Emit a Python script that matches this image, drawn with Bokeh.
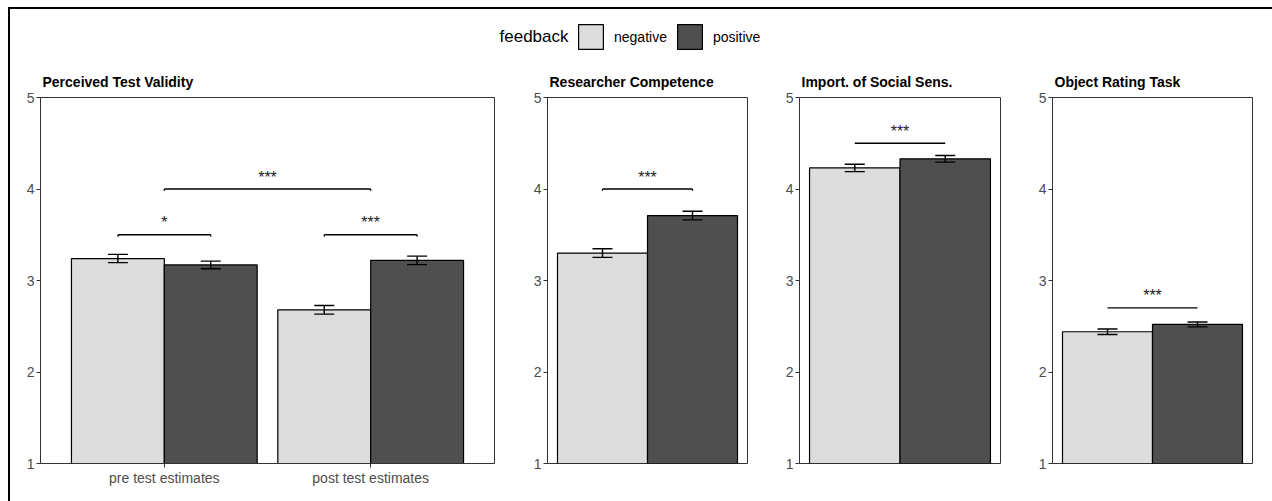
from bokeh.plotting import figure
from bokeh.models import (Range1d, FixedTicker, ColumnDataSource, Whisker, TeeHead,
                          Legend, LegendItem, Label)
from bokeh.layouts import row, column
from bokeh.embed import file_html
from bokeh.resources import INLINE
from bokeh.core.properties import value

# ---------------- data ----------------
groups = ["pre test estimates", "post test estimates"]
feedback = ["negative", "positive"]

validity_neg = [3.24, 2.68]
validity_pos = [3.17, 3.22]
validity_neg_se = [0.045, 0.047]
validity_pos_se = [0.042, 0.046]

competence_neg = [3.30]
competence_pos = [3.71]
competence_neg_se = [0.047]
competence_pos_se = [0.047]

social_neg = [4.23]
social_pos = [4.33]
social_neg_se = [0.040]
social_pos_se = [0.036]

object_neg = [2.44]
object_pos = [2.52]
object_neg_se = [0.030]
object_pos_se = [0.027]

# significance brackets: (x start, x end, y, label, tip length)
validity_sig_x0 = [0.775, 1.0, 1.775]
validity_sig_x1 = [1.225, 2.0, 2.225]
validity_sig_y = [3.5, 4.0, 3.5]
validity_sig_lab = ["*", "***", "***"]
validity_sig_tip = [0.02, 0.02, 0.02]

competence_sig_x0 = [0.775]
competence_sig_x1 = [1.225]
competence_sig_y = [4.0]
competence_sig_lab = ["***"]
competence_sig_tip = [0.02]

social_sig_x0 = [0.775]
social_sig_x1 = [1.225]
social_sig_y = [4.5]
social_sig_lab = ["***"]
social_sig_tip = [0.0]

object_sig_x0 = [0.775]
object_sig_x1 = [1.225]
object_sig_y = [2.7]
object_sig_lab = ["***"]
object_sig_tip = [0.0]

y_ticks = [1, 2, 3, 4, 5]

# ---------------- style ----------------
FONT = "Liberation Sans"
NEG_COLOR = "#dcdcdc"
POS_COLOR = "#4f4f4f"
FRAME_COLOR = "#333333"
BAR_W = 0.45
DODGE = 0.225


def make_panel(title, n_groups, neg, pos, neg_se, pos_se,
               sx0, sx1, sy, slab, stip,
               frame_w, left, right, xr, show_x):
    p = figure(frame_width=frame_w, frame_height=366,
               x_range=Range1d(*xr), y_range=Range1d(1, 5),
               output_backend="svg", toolbar_location=None,
               min_border_left=left, min_border_right=right,
               min_border_top=35, min_border_bottom=38,
               title=title)
    p.title.text_font = FONT
    p.title.text_font_size = "14px"
    p.title.text_font_style = "bold"
    p.title.text_color = "black"
    p.title.align = "left"
    p.title.offset = 2
    p.title.standoff = 16

    xs = [i + 1 for i in range(n_groups)]
    x_neg = [x - DODGE for x in xs]
    x_pos = [x + DODGE for x in xs]
    p.vbar(x=x_neg, top=neg, bottom=1, width=BAR_W,
           fill_color=NEG_COLOR, line_color="black", line_width=1.2)
    p.vbar(x=x_pos, top=pos, bottom=1, width=BAR_W,
           fill_color=POS_COLOR, line_color="black", line_width=1.2)

    err = ColumnDataSource(dict(
        x=x_neg + x_pos,
        upper=[v + e for v, e in zip(neg, neg_se)] + [v + e for v, e in zip(pos, pos_se)],
        lower=[v - e for v, e in zip(neg, neg_se)] + [v - e for v, e in zip(pos, pos_se)],
    ))
    w = Whisker(source=err, base="x", upper="upper", lower="lower",
                line_color="black", line_width=1.4, level="overlay",
                upper_head=TeeHead(size=20, line_color="black", line_width=1.4),
                lower_head=TeeHead(size=20, line_color="black", line_width=1.4))
    p.add_layout(w)

    # brackets
    p.segment(x0=sx0, y0=sy, x1=sx1, y1=sy, line_color="black", line_width=1.3)
    tips_x = sx0 + sx1
    tips_y0 = sy + sy
    tips_y1 = [y - t for y, t in zip(sy, stip)] * 2
    p.segment(x0=tips_x, y0=tips_y0, x1=tips_x, y1=tips_y1,
              line_color="black", line_width=1.3)
    cx = [(a + b) / 2 for a, b in zip(sx0, sx1)]
    p.text(x=cx, y=sy, text=slab, text_align="center", text_baseline="alphabetic",
           y_offset=-12, text_font=value(FONT), text_font_size="16px",
           text_color="#222222")

    p.xgrid.visible = False
    p.ygrid.visible = False
    p.outline_line_color = FRAME_COLOR
    p.outline_line_width = 1
    p.outline_line_alpha = 1

    p.yaxis.ticker = FixedTicker(ticks=y_ticks)
    p.yaxis.axis_line_color = FRAME_COLOR
    p.yaxis.major_tick_line_color = FRAME_COLOR
    p.yaxis.major_tick_out = 4
    p.yaxis.major_tick_in = 0
    p.yaxis.minor_tick_line_color = None
    p.yaxis.major_label_text_font = FONT
    p.yaxis.major_label_text_font_size = "14px"
    p.yaxis.major_label_text_color = "#4d4d4d"
    p.yaxis.major_label_standoff = 2

    if show_x:
        p.xaxis.ticker = FixedTicker(ticks=xs)
        p.xaxis.major_label_overrides = {x: g for x, g in zip(xs, groups)}
        p.xaxis.axis_line_color = FRAME_COLOR
        p.xaxis.major_tick_line_color = FRAME_COLOR
        p.xaxis.major_tick_out = 4
        p.xaxis.major_tick_in = 0
        p.xaxis.minor_tick_line_color = None
        p.xaxis.major_label_text_font = FONT
        p.xaxis.major_label_text_font_size = "14px"
        p.xaxis.major_label_text_color = "#4d4d4d"
        p.xaxis.major_label_standoff = 2
    else:
        p.xaxis.visible = False
    return p


p1 = make_panel("Perceived Test Validity", 2, validity_neg, validity_pos,
                validity_neg_se, validity_pos_se,
                validity_sig_x0, validity_sig_x1, validity_sig_y, validity_sig_lab, validity_sig_tip,
                454, 30, 21, (0.4, 2.6), True)
p2 = make_panel("Researcher Competence", 1, competence_neg, competence_pos,
                competence_neg_se, competence_pos_se,
                competence_sig_x0, competence_sig_x1, competence_sig_y, competence_sig_lab, competence_sig_tip,
                200, 32, 20, (0.5, 1.5), False)
p3 = make_panel("Import. of Social Sens.", 1, social_neg, social_pos,
                social_neg_se, social_pos_se,
                social_sig_x0, social_sig_x1, social_sig_y, social_sig_lab, social_sig_tip,
                201, 32, 20, (0.5, 1.5), False)
p4 = make_panel("Object Rating Task", 1, object_neg, object_pos,
                object_neg_se, object_pos_se,
                object_sig_x0, object_sig_x1, object_sig_y, object_sig_lab, object_sig_tip,
                200, 32, 20, (0.5, 1.5), False)

# ---------------- legend strip ----------------
lg = figure(frame_width=1262, frame_height=53, x_range=Range1d(0, 1), y_range=Range1d(0, 1),
            output_backend="svg", toolbar_location=None,
            min_border=0, x_axis_location=None, y_axis_location=None)
lg.outline_line_color = None
lg.xgrid.visible = False
lg.ygrid.visible = False
# invisible key renderers (outside the visible range), used only for legend swatches
r_neg = lg.vbar(x=[-5], top=[-5], bottom=-6, width=0.1,
                fill_color=NEG_COLOR, line_color="black", line_width=1.2)
r_pos = lg.vbar(x=[-5], top=[-5], bottom=-6, width=0.1,
                fill_color=POS_COLOR, line_color="black", line_width=1.2)
legend = Legend(items=[LegendItem(label=feedback[0], renderers=[r_neg]),
                       LegendItem(label=feedback[1], renderers=[r_pos])],
                orientation="horizontal", location=(565, 10),
                glyph_width=31, glyph_height=31, label_standoff=8, spacing=7,
                padding=0, margin=0, border_line_color=None, background_fill_alpha=0,
                label_text_font=FONT, label_text_font_size="14px", label_text_color="black")
lg.add_layout(legend, "center")
lg.add_layout(Label(x=489, y=26, x_units="screen", y_units="screen", text="feedback",
                    text_font=FONT, text_font_size="17px", text_baseline="middle",
                    text_color="black"))

layout = column(lg, row(p1, p2, p3, p4, spacing=0), spacing=0,
                margin=(7, 0, 0, 8),
                styles={"border-left": "2px solid black", "border-top": "2px solid black"})

open("out.html", "w").write(file_html(layout, INLINE))
